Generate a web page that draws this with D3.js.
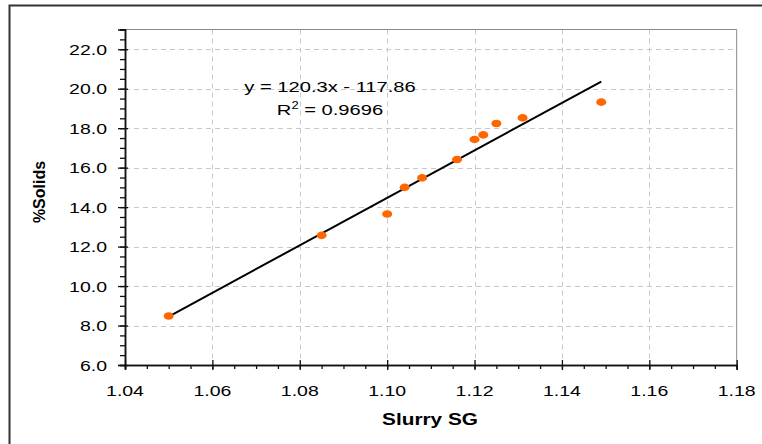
<!DOCTYPE html>
<html>
<head>
<meta charset="utf-8">
<script src="https://cdn.jsdelivr.net/npm/d3@7"></script>
<style>
  html, body { margin: 0; padding: 0; background: #fff; }
  svg { display: block; }
  text { font-family: "Liberation Sans", Arial, sans-serif; fill: #000; }
</style>
</head>
<body>
<svg id="chart" width="762" height="444"></svg>
<script>
// Slurry specific gravity vs. percent solids
const slurrySG = [1.050, 1.085, 1.100, 1.104, 1.108, 1.116, 1.120, 1.122, 1.125, 1.131, 1.149];
const percentSolids = [8.48, 12.57, 13.65, 15.00, 15.48, 16.41, 17.43, 17.66, 18.24, 18.52, 19.32];

// Linear trendline coefficients and fit quality
const trendSlope = 120.3;
const trendIntercept = -117.86;
const trendEquation = "y = 120.3x - 117.86";
const trendR2 = "0.9696";

// Axis ticks
const xTicks = [1.04, 1.06, 1.08, 1.10, 1.12, 1.14, 1.16, 1.18];
const yTicks = [6, 8, 10, 12, 14, 16, 18, 20, 22];
const xDomain = [1.04, 1.18];
const yDomain = [6, 23];

const svg = d3.select("#chart");
const plot = { left: 125, right: 736.7, top: 29.5, bottom: 365 };
const textStretch = 1.3;

const x = d3.scaleLinear().domain(xDomain).range([plot.left, plot.right]);
const y = d3.scaleLinear().domain(yDomain).range([plot.bottom, plot.top]);

// Outer chart frame
svg.append("path")
  .attr("d", `M9.5,450 V5.5 H770`)
  .attr("fill", "none").attr("stroke", "#333").attr("stroke-width", 2);

// Gridlines
const grid = svg.append("g").attr("stroke", "#c8c8c8").attr("stroke-width", 1)
  .attr("stroke-dasharray", "5,4");
yTicks.filter(v => v > yDomain[0]).forEach(v => {
  grid.append("line").attr("x1", plot.left).attr("x2", plot.right)
    .attr("y1", Math.round(y(v)) + 0.5).attr("y2", Math.round(y(v)) + 0.5);
});
xTicks.filter(v => v > xDomain[0] && v < xDomain[1]).forEach(v => {
  grid.append("line").attr("y1", plot.top).attr("y2", plot.bottom)
    .attr("x1", Math.round(x(v)) + 0.5).attr("x2", Math.round(x(v)) + 0.5);
});

// Plot area border (top and right)
svg.append("path")
  .attr("d", `M${plot.left},${plot.top} H${plot.right} V${plot.bottom}`)
  .attr("fill", "none").attr("stroke", "#8a8a8a").attr("stroke-width", 1);

// Minor ticks
const xMinor = d3.range(0, 29).map(i => +(xDomain[0] + i * 0.005).toFixed(3));
const yMinor = d3.range(0, 35).map(i => yDomain[0] + i * 0.5);

const xAxisMinor = svg.append("g").attr("transform", `translate(0,${plot.bottom})`)
  .call(d3.axisBottom(x).tickValues(xMinor).tickSize(4).tickFormat(""));
const xAxisMajor = svg.append("g").attr("transform", `translate(0,${plot.bottom})`)
  .call(d3.axisBottom(x).tickValues(xTicks).tickSize(5).tickFormat(""));
xAxisMajor.selectAll(".tick line").attr("y1", -5);

const yAxisMinor = svg.append("g").attr("transform", `translate(${plot.left},0)`)
  .call(d3.axisLeft(y).tickValues(yMinor).tickSize(5).tickFormat(""));
yAxisMinor.selectAll(".tick line").attr("x1", 1);
const yAxisMajor = svg.append("g").attr("transform", `translate(${plot.left},0)`)
  .call(d3.axisLeft(y).tickValues(yTicks).tickSize(7).tickFormat(""));
yAxisMajor.selectAll(".tick line").attr("x1", 3);

[xAxisMinor, xAxisMajor, yAxisMinor, yAxisMajor].forEach(g => {
  g.select(".domain").attr("stroke", "#111").attr("stroke-width", 1.5);
  g.selectAll(".tick line").attr("stroke", "#111").attr("stroke-width", 1.3);
});

// Text helper: labels are drawn slightly widened horizontally
function label(parent, tx, ty, str, anchor, size, weight) {
  return parent.append("text")
    .attr("transform", `translate(${tx},${ty}) scale(${textStretch},1)`)
    .attr("text-anchor", anchor)
    .style("font-size", size + "px")
    .style("font-weight", weight || "normal")
    .text(str);
}

// Tick labels
const labels = svg.append("g");
yTicks.forEach(v => label(labels, plot.left - 18, y(v) + 5.5, d3.format(".1f")(v), "end", 15));
xTicks.forEach(v => label(labels, x(v), plot.bottom + 31, d3.format(".2f")(v), "middle", 15));

// Axis titles
label(svg, 430, 425, "Slurry SG", "middle", 16, "bold");
svg.append("text")
  .attr("transform", `translate(45,192) rotate(-90)`)
  .attr("text-anchor", "middle")
  .style("font-size", "16px").style("font-weight", "bold")
  .text("%Solids");

// Trendline over the measured range
const xExt = d3.extent(slurrySG);
svg.append("line")
  .attr("x1", x(xExt[0])).attr("y1", y(trendSlope * xExt[0] + trendIntercept))
  .attr("x2", x(xExt[1])).attr("y2", y(trendSlope * xExt[1] + trendIntercept))
  .attr("stroke", "#000").attr("stroke-width", 2);

// Data points
svg.append("g").selectAll("ellipse")
  .data(slurrySG.map((v, i) => [v, percentSolids[i]]))
  .join("ellipse")
  .attr("cx", d => x(d[0])).attr("cy", d => y(d[1]))
  .attr("rx", 5).attr("ry", 3.8)
  .attr("fill", "#ff6600");

// Trendline equation and R²
label(svg, 330, 92, trendEquation, "middle", 15.5);
const r2 = svg.append("text")
  .attr("transform", `translate(330,115) scale(${textStretch},1)`)
  .attr("text-anchor", "middle")
  .style("font-size", "15.5px");
r2.append("tspan").text("R");
r2.append("tspan").attr("dy", -6).style("font-size", "10px").text("2");
r2.append("tspan").attr("dy", 6).text(" = " + trendR2);
</script>
</body>
</html>
